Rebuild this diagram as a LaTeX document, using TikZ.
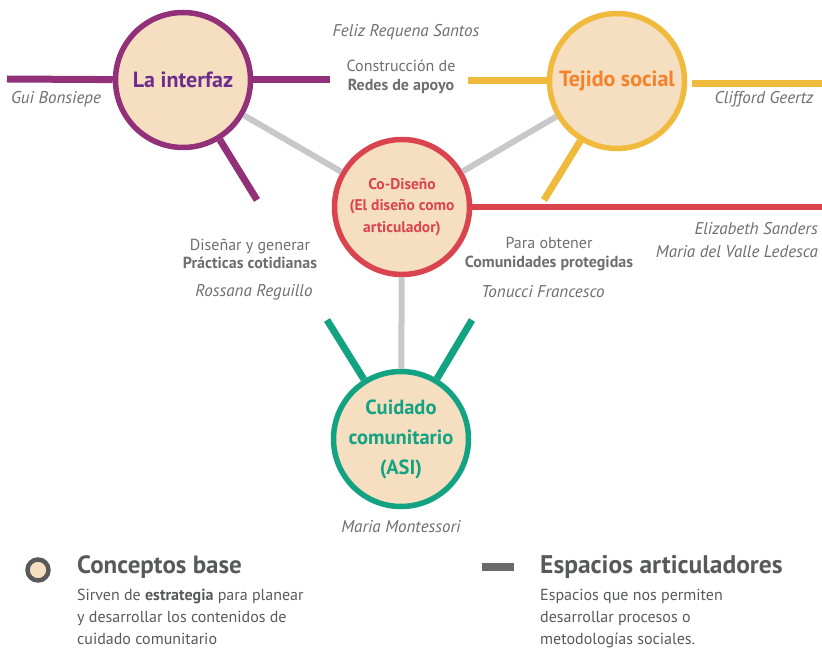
\documentclass[tikz,border=0pt]{standalone}
\usepackage{fontspec}
\setmainfont{PT Sans}
\usepackage{tikz}
\usetikzlibrary{positioning}
\definecolor{node_peach}{RGB}{246,222,192}
\definecolor{edge_purple}{RGB}{147,48,122}
\definecolor{text_purple}{RGB}{108,45,140}
\definecolor{edge_yellow}{RGB}{240,186,60}
\definecolor{text_orange}{RGB}{245,130,42}
\definecolor{edge_red}{RGB}{218,68,78}
\definecolor{edge_green}{RGB}{19,163,131}
\definecolor{edge_gray}{RGB}{200,200,200}
\definecolor{text_gray}{RGB}{110,110,112}
\definecolor{dark_gray}{RGB}{88,89,91}

\begin{document}
\begin{tikzpicture}[x=1pt,y=-1pt,line cap=butt]
    \tikzstyle{concept}=[circle, draw, line width=5.5pt, fill=node_peach, minimum size=135pt, inner sep=0pt, align=center]
    \tikzstyle{author}=[text=text_gray, inner sep=0pt, font=\itshape\fontsize{17}{22}\selectfont]
    \tikzstyle{action}=[text=text_gray, inner sep=0pt, align=center, font=\fontsize{16}{18.5}\selectfont]
    \tikzstyle{branch}=[line width=7pt]
    \tikzstyle{link}=[draw=edge_gray, line width=6pt]

    \useasboundingbox (0,0) rectangle (822,652);

    % conceptos base
    \node[concept, draw=edge_purple, text=text_purple, font=\bfseries\fontsize{22}{24}\selectfont] (li) at (183,80)  {La interfaz};
    \node[concept, draw=edge_yellow, text=text_orange, font=\bfseries\fontsize{22}{24}\selectfont] (ts) at (617,81)  {Tejido social};
    \node[concept, draw=edge_red, text=edge_red, font=\bfseries\fontsize{15.5}{21.5}\selectfont]   (cd) at (402,207) {Co-Diseño\\(El diseño como\\articulador)};
    \node[concept, draw=edge_green, text=edge_green, font=\bfseries\fontsize{20.5}{30}\selectfont] (cc) at (401,439) {Cuidado\\comunitario\\(ASI)};

    % extremos libres
    \coordinate (p1) at (7,79);
    \coordinate (p2) at (330,80);
    \coordinate (p3) at (257,200);
    \coordinate (y1) at (468,81);
    \coordinate (y2) at (692,84);
    \coordinate (y4) at (822,84);
    \coordinate (y3) at (544,200);
    \coordinate (r1) at (822,207);
    \coordinate (g1) at (327,320);
    \coordinate (g2) at (472,320);

    \path
     (li) edge[link] (cd)
     (ts) edge[link] (cd)
     (cd) edge[link] (cc)
     (p1) edge[branch, edge_purple] (li)
     (li) edge[branch, edge_purple] (p2)
     (li) edge[branch, edge_purple] (p3)
     (y1) edge[branch, edge_yellow] (ts)
     (y2) edge[branch, edge_yellow] (y4)
     (ts) edge[branch, edge_yellow] (y3)
     (cd) edge[branch, edge_red, line width=6pt] (r1)
     (g1) edge[branch, edge_green] (cc)
     (g2) edge[branch, edge_green] (cc)
     ;

    % autores y acciones
    \node[author] (frs) at (406,32)  {Feliz Requena Santos};
    \node[action] (rda) at (401,77)  {Construcción de\\\textbf{Redes de apoyo}};
    \node[author] (gb)  at (56,99)   {Gui Bonsiepe};
    \node[author] (cg)  at (764,99)  {Clifford Geertz};
    \node[action] (pco) at (250,254) {Diseñar y generar\\\textbf{Prácticas cotidianas}};
    \node[author] (rr)  at (254,292) {Rossana Reguillo};
    \node[action] (cpr) at (549,254) {Para obtener\\\textbf{Comunidades protegidas}};
    \node[author] (tf)  at (543,292) {Tonucci Francesco};
    \node[author, align=right, anchor=east, font=\itshape\fontsize{17}{23}\selectfont] (es) at (818,240) {Elizabeth Sanders\\Maria del Valle Ledesca};
    \node[author] (mm)  at (401,527) {Maria Montessori};

    % leyenda
    \node[circle, draw=dark_gray, fill=node_peach, line width=4.5pt, minimum size=21pt, inner sep=0pt] (lc) at (38,570) {};
    \node[anchor=west, inner sep=0pt, text=dark_gray, font=\bfseries\fontsize{25}{28}\selectfont] (cbt) at (77,567) {Conceptos base};
    \node[anchor=north west, inner sep=0pt, text=dark_gray, align=left, font=\fontsize{16}{22}\selectfont] (cbd) at (77,589)
        {Sirven de \textbf{estrategia} para planear\\y desarrollar los contenidos de\\cuidado comunitario};
    \node[rectangle, fill=dark_gray!90, minimum width=32pt, minimum height=8pt, inner sep=0pt] (ld) at (498,567) {};
    \node[anchor=west, inner sep=0pt, text=dark_gray, font=\bfseries\fontsize{25.5}{28}\selectfont] (eat) at (540,567) {Espacios articuladores};
    \node[anchor=north west, inner sep=0pt, text=dark_gray, align=left, font=\fontsize{16}{22}\selectfont] (ead) at (540,589)
        {Espacios que nos permiten\\desarrollar procesos o\\metodologías sociales.};
\end{tikzpicture}
\end{document}
